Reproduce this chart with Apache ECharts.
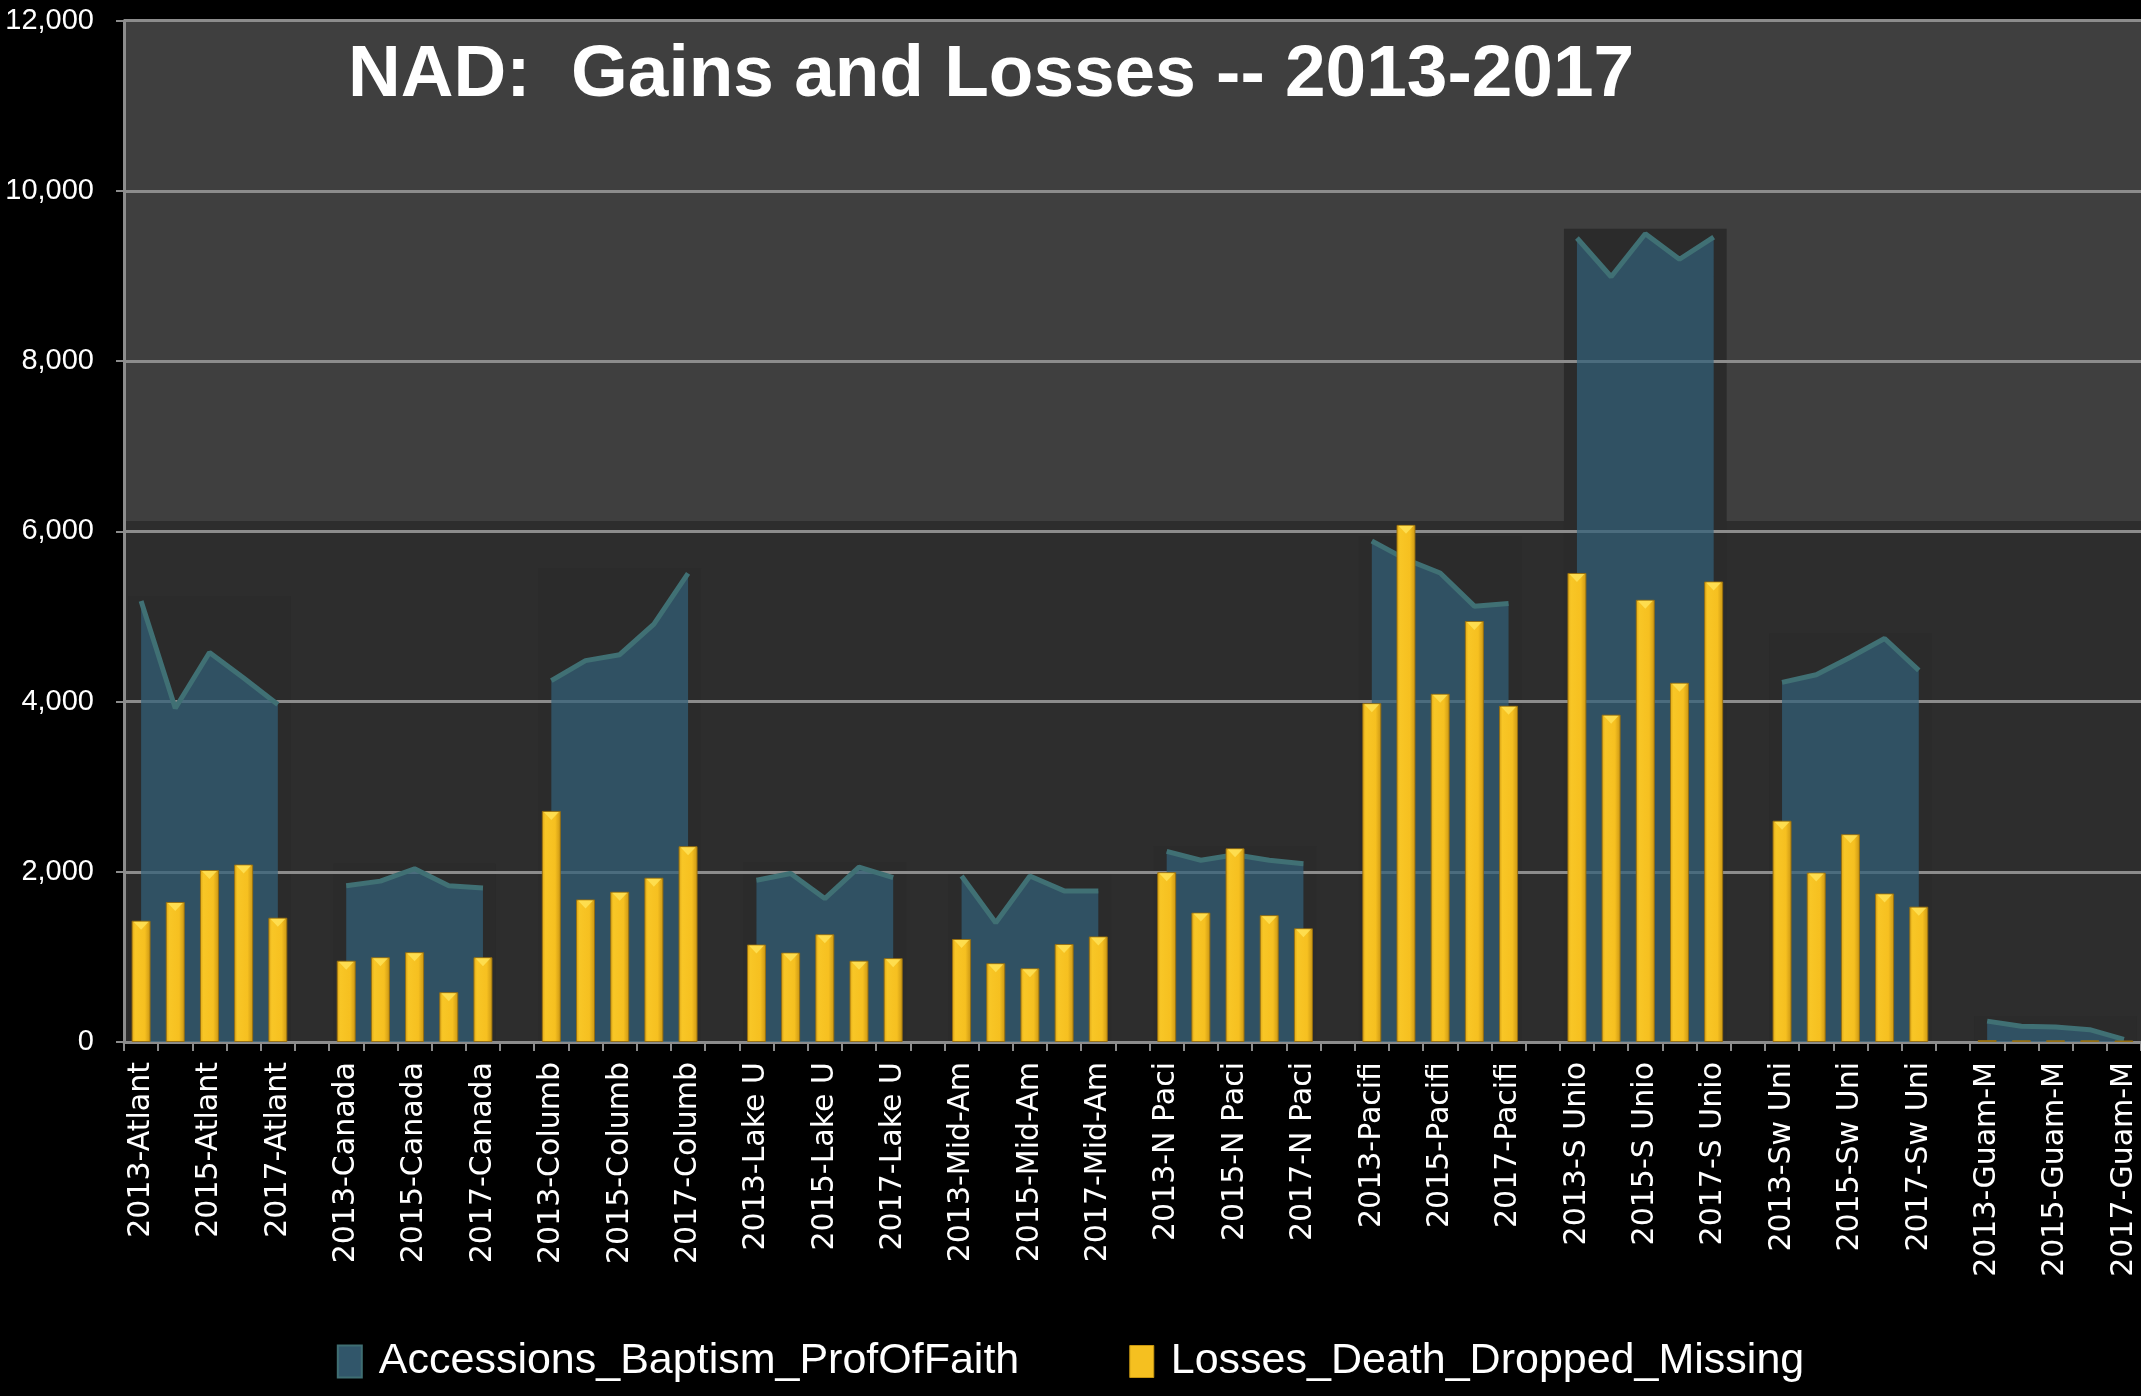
<!DOCTYPE html>
<html>
<head>
<meta charset="utf-8">
<script src="https://cdn.jsdelivr.net/npm/echarts@6/dist/echarts.min.js"></script>
<style>
html,body{margin:0;padding:0;background:#000;}
#chart{width:2141px;height:1396px;}
</style>
</head>
<body>
<div id="chart"></div>
<script>
// ---- data ----
const conferences = ['Atlant', 'Canada', 'Columb', 'Lake U', 'Mid-Am', 'N Paci', 'Pacifi', 'S Unio', 'Sw Uni', 'Guam-M'];
const years = ['2013', '2014', '2015', '2016', '2017'];
// one row per conference, one value per year
const accessions = [
  [5180, 3920, 4575, 4275, 3965],
  [1835, 1890, 2035, 1835, 1810],
  [4245, 4480, 4550, 4910, 5505],
  [1900, 1980, 1685, 2055, 1930],
  [1950, 1400, 1950, 1775, 1775],
  [2240, 2135, 2200, 2135, 2095],
  [5885, 5670, 5510, 5120, 5150],
  [9445, 8990, 9495, 9195, 9455],
  [4225, 4315, 4520, 4740, 4365],
  [245, 185, 175, 145, 30]
];
const losses = [
  [1425, 1645, 2020, 2085, 1460],
  [955, 995, 1055, 585, 995],
  [2715, 1675, 1765, 1930, 2300],
  [1145, 1050, 1265, 955, 985],
  [1210, 925, 865, 1150, 1240],
  [1995, 1520, 2275, 1490, 1335],
  [3980, 6075, 4090, 4945, 3950],
  [5510, 3845, 5195, 4220, 5410],
  [2600, 1990, 2440, 1745, 1590],
  [22, 20, 20, 20, 18]
];
const yTicks = [0, 2000, 4000, 6000, 8000, 10000, 12000];
const bandSplit = 6120; // value where the plot background changes shade

// ---- build category axis (5 years + a gap per conference) ----
const categories = [];
const accData = [];
const lossData = [];
const groupBoxes = [];
conferences.forEach((c, i) => {
  const start = categories.length;
  years.forEach((y, j) => {
    categories.push(y + '-' + c);
    accData.push(accessions[i][j]);
    lossData.push(losses[i][j]);
  });
  groupBoxes.push([start, start + years.length - 1, Math.max.apply(null, accessions[i])]);
  if (i < conferences.length - 1) {
    categories.push(' '.repeat(i + 1));
    accData.push(null);
    lossData.push(null);
  }
});
const tipData = lossData.map(v => (v != null && v > 200) ? v : null);

const chart = echarts.init(document.getElementById('chart'), null, {renderer: 'canvas'});

const option = {
  backgroundColor: '#000000',
  animation: false,
  title: {
    text: 'NAD:  Gains and Losses -- 2013-2017',
    left: 343,
    top: 34,
    textStyle: {color: '#ffffff', fontFamily: 'Liberation Sans', fontWeight: 'bold', fontSize: 73}
  },
  legend: {
    bottom: 8,
    left: 'center',
    icon: 'rect',
    itemWidth: 24,
    itemHeight: 32,
    itemGap: 110,
    textStyle: {color: '#ffffff', fontFamily: 'Liberation Sans', fontSize: 43, padding: [0, 0, 0, 12]},
    data: [
      {name: 'Accessions_Baptism_ProfOfFaith', itemStyle: {color: '#31566a', borderColor: '#3f6e72', borderWidth: 2}},
      {name: 'Losses_Death_Dropped_Missing', itemStyle: {color: '#f5c020', borderColor: '#c8960f', borderWidth: 1}}
    ]
  },
  grid: {left: 124, right: 0, top: 20.5, bottom: 354, containLabel: false},
  xAxis: {
    type: 'category',
    data: categories,
    boundaryGap: true,
    axisLine: {show: true, lineStyle: {color: '#8c8c8c', width: 3}},
    axisTick: {show: true, interval: 0, length: 9, lineStyle: {color: '#8c8c8c', width: 2}},
    axisLabel: {
      interval: 1,
      rotate: 90,
      margin: 20,
      color: '#ffffff',
      fontFamily: 'DejaVu Sans',
      fontSize: 30
    },
    splitLine: {show: false}
  },
  yAxis: {
    type: 'value',
    min: yTicks[0],
    max: yTicks[yTicks.length - 1],
    interval: yTicks[1] - yTicks[0],
    axisLine: {show: true, lineStyle: {color: '#8c8c8c', width: 3}},
    axisTick: {show: true, length: 8, lineStyle: {color: '#8c8c8c', width: 2}},
    axisLabel: {
      margin: 30,
      color: '#ffffff',
      fontFamily: 'Liberation Sans',
      fontSize: 29,
      formatter: v => v.toLocaleString('en-US')
    },
    splitLine: {show: true, lineStyle: {color: '#8c8c8c', width: 3}}
  },
  series: [
    {
      // plot background bands
      type: 'custom',
      name: 'bg-bands',
      z: -2,
      silent: true,
      data: [[0, bandSplit, yTicks[yTicks.length - 1], 0], [0, yTicks[0], bandSplit, 1]],
      renderItem: function (params, api) {
        const cs = params.coordSys;
        const y1 = api.coord([0, api.value(2)])[1];
        const y0 = api.coord([0, api.value(1)])[1];
        return {
          type: 'rect',
          shape: {x: cs.x, y: y1, width: cs.width, height: y0 - y1},
          style: {fill: api.value(3) === 0 ? '#3f3f3f' : '#2d2d2d'}
        };
      },
      tooltip: {show: false}
    },
    {
      // dark boxes behind each area group
      type: 'custom',
      name: 'bg-boxes',
      z: -1,
      silent: true,
      data: groupBoxes,
      renderItem: function (params, api) {
        const bw = api.size([1, 0])[0];
        const p0 = api.coord([api.value(0), 0]);
        const p1 = api.coord([api.value(1), api.value(2) + 60]);
        const x0 = p0[0] - bw * 0.38;
        const x1 = p1[0] + bw * 0.38;
        return {
          type: 'rect',
          shape: {x: x0, y: p1[1], width: x1 - x0, height: p0[1] - p1[1]},
          style: {fill: '#2b2b2b'}
        };
      },
      tooltip: {show: false}
    },
    {
      name: 'Accessions_Baptism_ProfOfFaith',
      type: 'line',
      data: accData,
      connectNulls: false,
      symbol: 'none',
      z: 2,
      itemStyle: {color: '#31566a'},
      lineStyle: {color: 'rgba(64,112,116,1)', width: 5},
      areaStyle: {color: 'rgba(50,96,120,0.72)', opacity: 1, origin: 'start'}
    },
    {
      name: 'Losses_Death_Dropped_Missing',
      type: 'bar',
      data: lossData,
      barWidth: 19,
      z: 3,
      itemStyle: {
        color: {
          type: 'linear', x: 0, y: 0, x2: 1, y2: 0,
          colorStops: [
            {offset: 0, color: '#dca516'},
            {offset: 0.18, color: '#f8c626'},
            {offset: 0.7, color: '#f6c020'},
            {offset: 1, color: '#c99513'}
          ]
        },
        borderColor: 'rgba(150,110,15,0.9)',
        borderWidth: 1
      }
    },
    {
      name: 'bar-tips',
      type: 'scatter',
      data: tipData,
      symbol: 'triangle',
      symbolRotate: 180,
      symbolSize: [15, 8],
      symbolOffset: [0, 5],
      z: 4,
      silent: true,
      itemStyle: {color: '#ffe45a'}
    }
  ]
};
chart.setOption(option);
</script>
</body>
</html>
